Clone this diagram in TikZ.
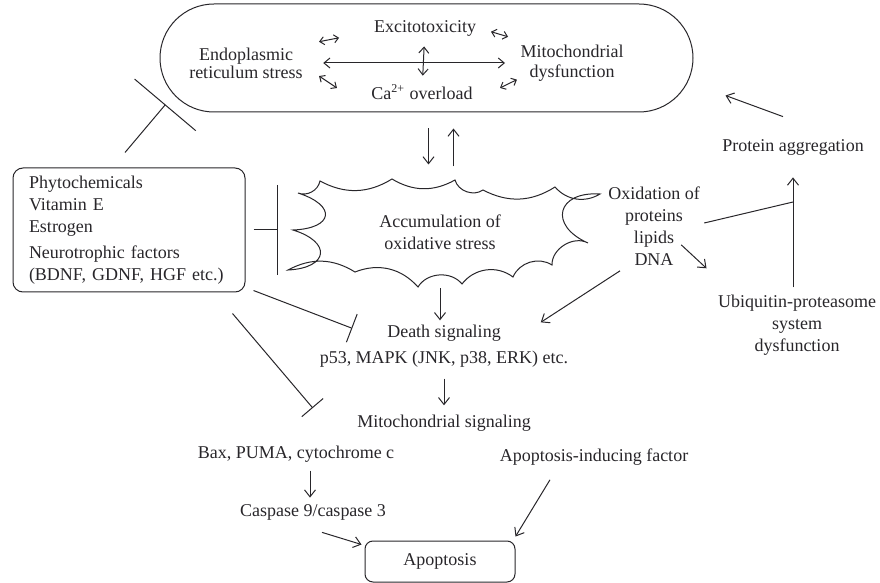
\documentclass[tikz,border=0pt]{standalone}
\usepackage{fontspec}
\setmainfont{Liberation Serif}
\usetikzlibrary{arrows.meta,calc}
\definecolor{ink}{RGB}{40,38,42}
\tikzset{
  txt/.style={font=\fontsize{9}{11}\selectfont, align=center, inner sep=0pt},
  act/.style={-{Straight Barb[length=3.5pt,width=5.5pt]}},
  dbl/.style={{Straight Barb[length=3pt,width=5pt]}-{Straight Barb[length=3pt,width=5pt]}},
  smalldbl/.style={{Straight Barb[length=2.2pt,width=4pt]}-{Straight Barb[length=2.2pt,width=4pt]}},
  inh/.style={-{Bar[width=#1]}},
  boxed/.style={draw, rounded corners=#1},
  dent/.style={bend right=#1},
  deepdent/.style={bend right=80, looseness=#1}
}

\begin{document}
\begin{tikzpicture}[x=0.5pt, y=-0.5pt, line width=0.5pt, color=ink]
  \useasboundingbox (0,0) rectangle (880,583);

  % stress loop at the top
  \node[boxed=27pt, minimum width=266.5pt, minimum height=54pt] (stress) at (426.5,58) {};
  \node[txt] (exc) at (425,28) {Excitotoxicity};
  \node[txt] (er) at (246,63) {Endoplasmic\\[-2pt]reticulum stress};
  \node[txt] (mito) at (572,63) {Mitochondrial\\[-1pt]dysfunction};
  \node[txt] (ca) at (422,92) {Ca\textsuperscript{2+} overload};
  \draw[dbl] ([xshift=10pt]er.east) -- ([xshift=-7.5pt]mito.west);
  \draw[dbl, shorten <=5pt, shorten >=4pt] (exc) -- (ca);
  \draw[smalldbl] ($(er)!.408!(exc)+(0,-7)$) -- ($(er)!.52!(exc)+(0,-7)$);
  \draw[smalldbl] ($(exc)!.449!(mito)+(0,-12)$) -- ($(exc)!.565!(mito)+(0,-11)$);
  \draw[smalldbl] ($(er)!.415!(ca)+(0,1)$) -- ($(er)!.517!(ca)+(0,10)$);
  \draw[smalldbl] ($(mito)!.367!(ca)+(0,6)$) -- ($(mito)!.48!(ca)+(0,11)$);

  % oxidative stress burst
  \node[txt, minimum width=150pt, minimum height=52pt] (ox) at (440,232)
    {Accumulation of\\oxidative stress};
  \draw (298,193) to[dent=50] (320,181) to[dent=30] (392,179)
    to[dent=30] (455,180) to[dent=55] (483,190)
    to[dent=30] (555,187) to[dent=40] (600,194)
    to[deepdent=2.2] (588,243) to[dent=60] (552,265)
    to[dent=50] (513,277) to[dent=45] (462,284)
    to[dent=55] (418,287) to[dent=35] (355,272)
    to[dent=30] (288,270) to[deepdent=2.6] (293,230)
    to[deepdent=2.8] cycle;

  % protective agents
  \node[boxed=5pt, txt, align=left, text width=100pt, inner xsep=8pt,
    minimum height=62pt] (agents) at (129,230)
    {Phytochemicals\\Vitamin E\\Estrogen\\[2pt]Neurotrophic factors\\(BDNF, GDNF, HGF etc.)};

  % right branch
  \node[txt] (prot) at (793,147) {Protein aggregation};
  \node[txt] (oxid) at (654,226) {Oxidation of\\proteins\\lipids\\DNA};
  \node[txt] (ups) at (797,325) {Ubiquitin-proteasome\\system\\dysfunction};
  \coordinate (merge) at (793,202);

  % signaling chain
  \node[txt] (death) at (444,346) {Death signaling\\[2pt]p53, MAPK (JNK, p38, ERK) etc.};
  \node[txt] (mitsig) at (444,423) {Mitochondrial signaling};
  \node[txt] (bax) at (296,454) {Bax, PUMA, cytochrome c};
  \node[txt] (casp) at (313,512) {Caspase 9/caspase 3};
  \node[txt] (aif) at (594,457) {Apoptosis-inducing factor};
  \node[boxed=4pt, txt, minimum width=75pt, minimum height=20.5pt] (apop) at (440,561.5) {Apoptosis};

  % connectors
  \draw[act, shorten <=8pt, shorten >=7.5pt] ([xshift=1pt]stress.south) -- ([xshift=1pt]stress.south |- ox.north);
  \draw[act, shorten <=6.5pt, shorten >=8pt] ([xshift=13.5pt]stress.south |- ox.north) -- ([xshift=13.5pt]stress.south);
  \draw[inh=40pt] ([xshift=-2pt,yshift=7.5pt]agents.north) -- ([xshift=3pt,yshift=4pt]stress.south west);
  \draw[inh=45pt] ([xshift=4pt]agents.east) -- ([xshift=-6pt]ox.west |- agents.east);
  \draw[inh=15pt] ([xshift=4pt,yshift=1pt]agents.south east) -- ([xshift=16.5pt,yshift=-2pt]death.north west);
  \draw[inh=14pt] ([xshift=-6.5pt,yshift=-10.5pt]agents.south east) -- ([xshift=-22pt,yshift=7.5pt]mitsig.west);
  \draw[act, shorten <=2pt, shorten >=2pt] (ox.south) -- (ox.south |- death.north);
  \draw[act, shorten <=5.5pt, shorten >=4.5pt] (death.south) -- (mitsig.north);
  \draw[act, shorten <=4pt, shorten >=3pt] ([xshift=7pt]bax.south) -- ([xshift=7pt]bax.south |- casp.north);
  \draw[act] ([xshift=4.5pt,yshift=-6pt]casp.south) -- ([xshift=-1.5pt,yshift=-2pt]apop.north west);
  \draw[act] ([xshift=-22pt,yshift=-7pt]aif.south) -- ([yshift=2pt]apop.north east);
  \draw[act] ([xshift=-5pt,yshift=11pt]prot.north) -- ([xshift=16pt,yshift=8.5pt]stress.south east);
  \draw[act, shorten <=3.5pt, shorten >=11pt] ([xshift=-2pt]ups.north) -- ([xshift=-2pt]ups.north |- prot.south);
  \draw ([xshift=2pt,yshift=1.5pt]oxid.east) -- (merge);
  \draw[act] ([xshift=-9.5pt,yshift=10.5pt]oxid.south east) -- ([xshift=-5.5pt,yshift=13pt]ups.north west);
  \draw[act] ([xshift=-17pt,yshift=-2.5pt]oxid.south) -- ([xshift=-14pt,yshift=1pt]death.north east);
\end{tikzpicture}
\end{document}
